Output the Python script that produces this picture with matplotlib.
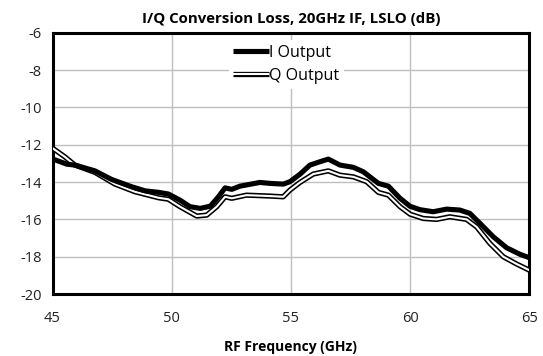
import matplotlib.pyplot as plt
from matplotlib.legend_handler import HandlerTuple

plt.rcParams['font.family'] = ['Open Sans', 'DejaVu Sans']
plt.rcParams['axes.unicode_minus'] = False

# -----------------------------
# DATA
# -----------------------------
i_freq = [45.0, 45.6, 45.94, 46.78, 47.48, 48.32, 48.88, 49.44, 49.86, 50.35,
          50.77, 51.2, 51.62, 51.96, 52.24, 52.52, 52.86, 53.7, 54.12, 54.68,
          54.96, 55.38, 55.8, 56.22, 56.57, 57.06, 57.62, 58.04, 58.67, 59.09,
          59.58, 60.0, 60.42, 60.97, 61.53, 62.09, 62.51, 62.93, 63.49, 64.05,
          64.61, 65.0]
i_loss = [-12.76, -13.04, -13.09, -13.4, -13.86, -14.25, -14.47, -14.55, -14.64, -14.97,
          -15.32, -15.41, -15.29, -14.79, -14.31, -14.39, -14.22, -14.02, -14.07, -14.11,
          -13.98, -13.58, -13.09, -12.91, -12.77, -13.09, -13.21, -13.45, -14.07, -14.22,
          -14.87, -15.3, -15.48, -15.59, -15.45, -15.5, -15.68, -16.21, -16.93, -17.52,
          -17.87, -18.05]

q_freq = [45.0, 45.52, 45.94, 46.78, 47.62, 48.46, 49.44, 49.86, 50.35, 51.05,
          51.47, 51.89, 52.24, 52.52, 53.14, 54.12, 54.68, 54.96, 55.38, 55.94,
          56.57, 57.06, 57.62, 58.18, 58.67, 59.09, 59.58, 60.0, 60.55, 61.11,
          61.67, 62.37, 62.79, 63.35, 63.91, 64.47, 65.0]
q_loss = [-12.18, -12.65, -13.09, -13.48, -14.11, -14.52, -14.84, -14.92, -15.32, -15.82,
          -15.77, -15.32, -14.79, -14.87, -14.7, -14.75, -14.79, -14.43, -14.02, -13.57,
          -13.4, -13.63, -13.72, -13.98, -14.55, -14.7, -15.32, -15.72, -15.95, -16.0,
          -15.86, -16.0, -16.4, -17.29, -18.0, -18.39, -18.72]

x_ticks = [45, 50, 55, 60, 65]
y_ticks = [-20, -18, -16, -14, -12, -10, -8, -6]

# -----------------------------
# PLOT
# -----------------------------
fig = plt.figure(figsize=(5.43, 3.56), dpi=100)
ax = fig.add_axes([0.0967, 0.174, 0.878, 0.734])

line_kw = dict(solid_capstyle="butt", solid_joinstyle="round")
i_line, = ax.plot(i_freq, i_loss, color="black", lw=3.7, zorder=4, **line_kw)
q_outer, = ax.plot(q_freq, q_loss, color="black", lw=3.8, zorder=3, **line_kw)
q_inner, = ax.plot(q_freq, q_loss, color="white", lw=1.5, zorder=3.5, **line_kw)

ax.set_xlim(45, 65)
ax.set_ylim(-20, -6)
ax.set_xticks(x_ticks)
ax.set_yticks(y_ticks)
ax.tick_params(length=0, labelsize=10.5, colors="#222222", pad=8)
ax.tick_params(axis="x", pad=12)

ax.grid(color="#bfbfbf", lw=1.0)
ax.set_axisbelow(True)
for spine in ax.spines.values():
    spine.set_linewidth(2.2)
    spine.set_color("black")

ax.set_title("I/Q Conversion Loss, 20GHz IF, LSLO (dB)", fontsize=10.8, fontweight="bold", pad=7)
ax.set_xlabel("RF Frequency (GHz)", fontsize=10, fontweight="bold", labelpad=10)

leg = ax.legend([i_line, (q_outer, q_inner)], ["I Output", "Q Output"],
                handler_map={tuple: HandlerTuple(ndivide=1)},
                loc="upper center", bbox_to_anchor=(0.49, 0.985), frameon=True,
                framealpha=1, edgecolor="white", fontsize=11.5, handlelength=2.2,
                handletextpad=0.0, borderpad=0.3, labelspacing=0.45, fancybox=False,
                borderaxespad=0.2)
leg.get_frame().set_linewidth(0)

fig.savefig("out.png", dpi=100)
